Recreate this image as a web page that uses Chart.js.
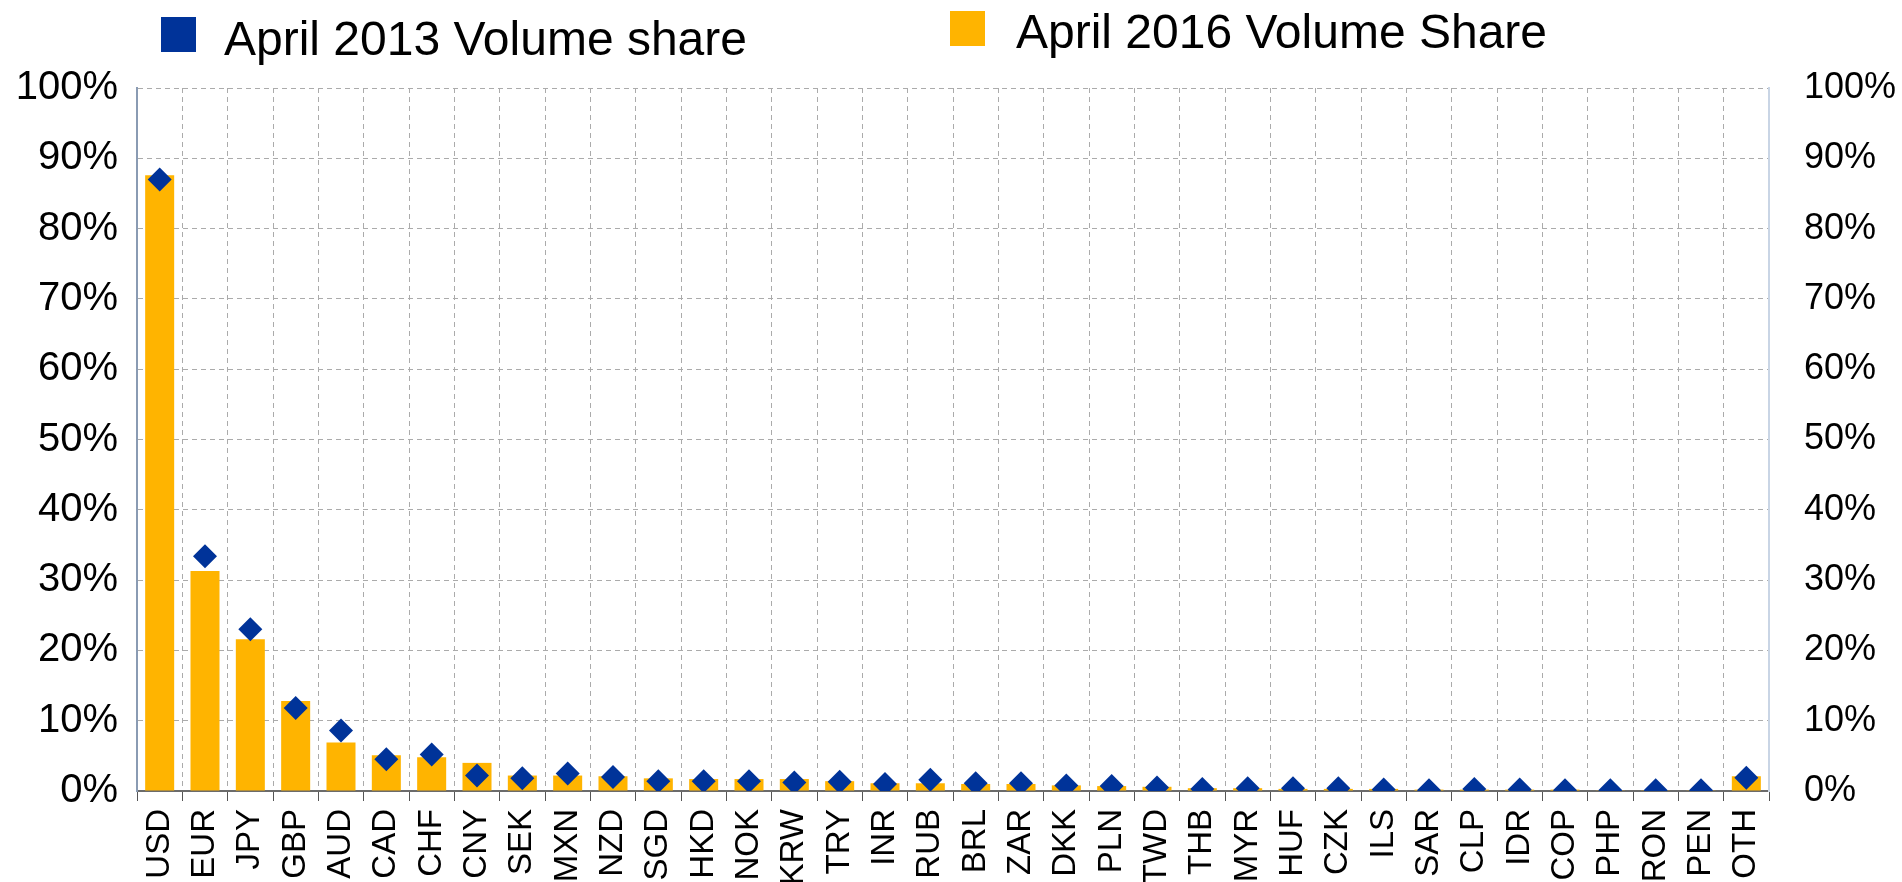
<!DOCTYPE html>
<html lang="en">
<head>
    <meta charset="UTF-8">
    <title>FX Volume Share</title>
    <script src="https://cdn.jsdelivr.net/npm/chart.js"></script>
    <style>
        body {
            margin: 0;
            background: #ffffff;
        }
        .wrap {
            width: 1902px;
            height: 882px;
            position: relative;
        }
    </style>
</head>
<body>
    <div class="wrap">
        <canvas id="myChart"></canvas>
    </div>

    <script>
        const currencies = ['USD', 'EUR', 'JPY', 'GBP', 'AUD', 'CAD', 'CHF', 'CNY', 'SEK', 'MXN',
            'NZD', 'SGD', 'HKD', 'NOK', 'KRW', 'TRY', 'INR', 'RUB', 'BRL', 'ZAR',
            'DKK', 'PLN', 'TWD', 'THB', 'MYR', 'HUF', 'CZK', 'ILS', 'SAR', 'CLP',
            'IDR', 'COP', 'PHP', 'RON', 'PEN', 'OTH'];

        // percent of turnover (each trade counts two currencies)
        const share2013 = [87.0, 33.4, 23.0, 11.8, 8.6, 4.5, 5.2, 2.2, 1.8, 2.5,
            2.0, 1.4, 1.4, 1.4, 1.2, 1.3, 1.0, 1.6, 1.1, 1.1,
            0.8, 0.7, 0.5, 0.3, 0.4, 0.4, 0.4, 0.2, 0.1, 0.3,
            0.2, 0.1, 0.1, 0.1, 0.1, 1.9];
        const share2016 = [87.6, 31.3, 21.6, 12.8, 6.9, 5.1, 4.8, 4.0, 2.2, 2.2,
            2.1, 1.8, 1.7, 1.7, 1.7, 1.4, 1.1, 1.1, 1.0, 1.0,
            0.8, 0.7, 0.6, 0.4, 0.4, 0.3, 0.3, 0.3, 0.2, 0.2,
            0.2, 0.2, 0.1, 0.1, 0.1, 2.1];

        const seriesNames = ['April 2013 Volume share', 'April 2016 Volume Share'];
        const yMin = 0;
        const yMax = 100;
        const yStep = 10;

        const FONT = '"Liberation Sans", Arial, sans-serif';
        const blue = '#003399';
        const orange = '#FFB400';
        const gridGray = '#ababab';

        // legend drawn by hand so the two entries can sit where the original has them
        const legendPlugin = {
            id: 'topLegend',
            afterDraw(chart) {
                const c = chart.ctx;
                const spots = [
                    { box: [161, 17], text: [224, 42] },
                    { box: [950, 11], text: [1016, 35] }
                ];
                c.save();
                c.font = '48px ' + FONT;
                c.textBaseline = 'middle';
                chart.data.datasets.forEach(function(ds) {
                    const s = spots[ds.legendSlot];
                    c.fillStyle = ds.legendColor;
                    c.fillRect(s.box[0], s.box[1], 35, 35);
                    c.fillStyle = '#000';
                    c.fillText(ds.label, s.text[0], s.text[1]);
                });
                c.restore();
            }
        };

        const ctx = document.getElementById('myChart').getContext('2d');
        const chart = new Chart(ctx, {
            type: 'bar',
            data: {
                labels: currencies,
                datasets: [{
                    type: 'line',
                    label: seriesNames[0],
                    data: share2013,
                    showLine: false,
                    pointStyle: 'rectRot',
                    pointRadius: 12,
                    pointHoverRadius: 12,
                    pointBackgroundColor: blue,
                    pointBorderWidth: 0,
                    borderColor: blue,
                    legendColor: blue,
                    legendSlot: 0,
                    order: 0
                }, {
                    type: 'bar',
                    label: seriesNames[1],
                    data: share2016,
                    backgroundColor: orange,
                    legendColor: orange,
                    legendSlot: 1,
                    barPercentage: 0.64,
                    categoryPercentage: 1,
                    order: 1
                }]
            },
            options: {
                responsive: true,
                maintainAspectRatio: false,
                animation: false,
                layout: {
                    padding: { top: 88, left: 0, right: 0, bottom: 0 }
                },
                plugins: {
                    legend: { display: false },
                    tooltip: { enabled: false }
                },
                scales: {
                    x: {
                        offset: true,
                        grid: {
                            offset: true,
                            color: gridGray,
                            lineWidth: 1,
                            tickLength: 10,
                            tickColor: '#555555',
                            tickBorderDash: []
                        },
                        border: { color: '#6b6b6b', width: 2, dash: [5, 4] },
                        ticks: {
                            autoSkip: false,
                            minRotation: 90,
                            maxRotation: 90,
                            padding: 8,
                            color: '#000',
                            font: { family: FONT, size: 33 }
                        },
                        afterFit: function(scale) { scale.height = 91; }
                    },
                    y: {
                        position: 'left',
                        min: yMin,
                        max: yMax,
                        grid: {
                            color: gridGray,
                            drawTicks: false
                        },
                        border: { color: '#8a9bb3', width: 2, dash: [5, 4] },
                        ticks: {
                            stepSize: yStep,
                            padding: 19,
                            color: '#000',
                            font: { family: FONT, size: 40 },
                            callback: function(v) { return v + '%'; }
                        },
                        afterFit: function(scale) { scale.width = 137; }
                    },
                    y1: {
                        position: 'right',
                        min: yMin,
                        max: yMax,
                        grid: { display: false, drawTicks: false },
                        border: { color: '#c9d5e5', width: 2 },
                        ticks: {
                            stepSize: yStep,
                            padding: 35,
                            color: '#000',
                            font: { family: FONT, size: 36 },
                            callback: function(v) { return v + '%'; }
                        },
                        afterFit: function(scale) { scale.width = 133; }
                    }
                }
            },
            plugins: [legendPlugin]
        });
    </script>
</body>
</html>
